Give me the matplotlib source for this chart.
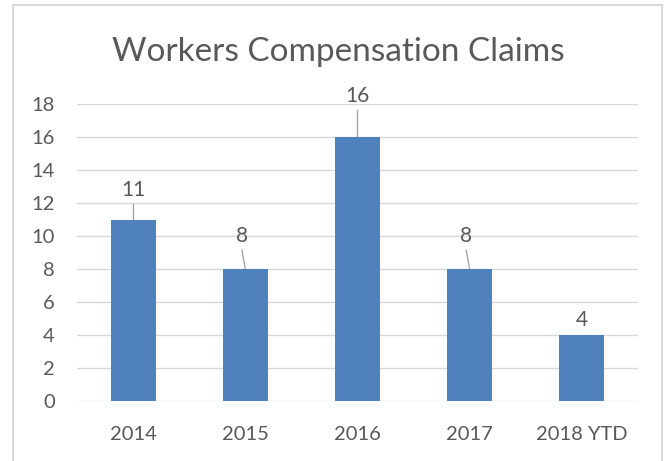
import numpy as np
import matplotlib.pyplot as plt
from matplotlib.patches import Rectangle

# Claims per year
years = ['2014', '2015', '2016', '2017', '2018 YTD']
claims = [11, 8, 16, 8, 4]

# Where each value label sits (x shift, height above the bar) and whether it gets a leader line
label_dx = [0.0, -0.03, 0.0, -0.03, 0.0]
label_dy = [1.8, 2.0, 2.5, 2.0, 0.9]
leader = [True, True, True, True, False]

text_col = '#595959'
grid_col = '#d9d9d9'
bar_col = '#4f81bd'

plt.rcParams['font.family'] = ['Lato', 'DejaVu Sans']

fig = plt.figure(figsize=(6.7, 4.61), dpi=100)
ax = fig.add_axes([0.115, 0.130, 0.837, 0.644])

x = np.arange(len(years))
ax.bar(x, claims, width=0.4, color=bar_col, zorder=3)

for i, v in enumerate(claims):
    lx = x[i] + label_dx[i]
    ly = v + label_dy[i]
    ax.text(lx, ly, str(v), ha='center', va='center', fontsize=15,
            color=text_col, zorder=4, clip_on=False)
    if leader[i]:
        ax.plot([lx, x[i]], [ly - 0.85, v], color='#a6a6a6', lw=1.0,
                zorder=2, clip_on=False)

ax.set_xlim(-0.5, len(years) - 0.5)
ax.set_ylim(0, 18)
ax.set_yticks(np.arange(0, 19, 2))
ax.set_xticks(x)
ax.set_xticklabels(years)
ax.yaxis.grid(True, color=grid_col, lw=1.0, zorder=0)
ax.tick_params(length=0, labelsize=14.5, colors=text_col)
ax.tick_params(axis='x', pad=18)
ax.tick_params(axis='y', pad=16)
for s in ax.spines.values():
    s.set_visible(False)

fig.text(0.505, 0.888, 'Workers Compensation Claims', ha='center', va='center',
         fontsize=24, color=text_col)

# light chart border
fig.patches.append(Rectangle((13 / 670, -0.01), 649 / 670, 1 - 5 / 461 + 0.01,
                             transform=fig.transFigure, fill=False,
                             edgecolor=grid_col, lw=1.5))

fig.savefig('out.png', dpi=100)
